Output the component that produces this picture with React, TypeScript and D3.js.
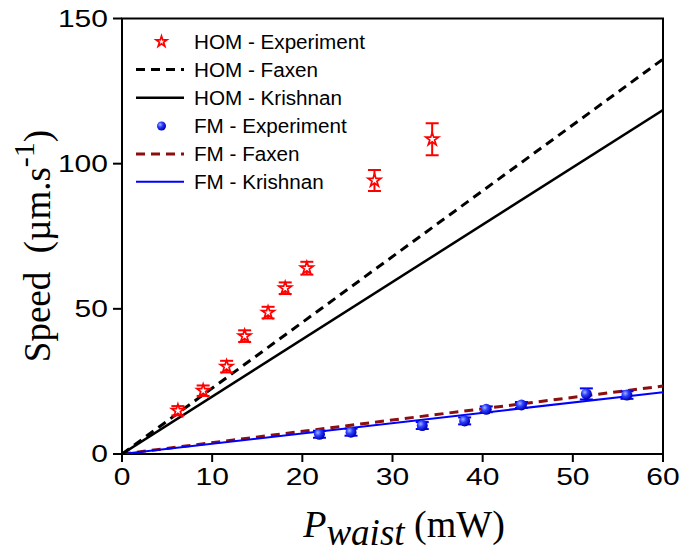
import React, { useEffect, useRef } from "react";
import * as d3 from "d3";

const W = 685;
const H = 554;

const homX = [6.2, 9.0, 11.6, 13.6, 16.2, 18.1, 20.5, 28.0, 34.4];
const homY = [14.9, 21.8, 30.1, 40.6, 48.7, 57.1, 64.0, 94.2, 108.4];
const homErr = [1.6, 1.8, 2.0, 2.0, 2.0, 2.0, 2.2, 3.6, 5.5];

const fmX = [21.9, 25.4, 33.3, 38.0, 40.4, 44.3, 51.5, 56.0];
const fmY = [6.8, 7.5, 9.8, 11.4, 15.4, 16.9, 20.7, 20.3];
const fmErr = [1.2, 1.2, 1.2, 1.2, 1.0, 1.0, 1.9, 1.3];

const lineX = [0, 60];
const homFaxenY = [0, 136];
const homKrishnanY = [0, 118.5];
const fmFaxenY = [0, 23.4];
const fmKrishnanY = [0, 21.3];

const xTicks = [0, 10, 20, 30, 40, 50, 60];
const yTicks = [0, 50, 100, 150];

const legendLabels = [
  "HOM - Experiment",
  "HOM - Faxen",
  "HOM - Krishnan",
  "FM - Experiment",
  "FM - Faxen",
  "FM - Krishnan",
];

export default function App() {
  const ref = useRef<SVGSVGElement>(null);

  useEffect(() => {
    const svg = d3.select(ref.current);
    svg.selectAll("*").remove();

    const left = 122, right = 663, top = 18.5, bottom = 454;
    const x = d3.scaleLinear().domain([0, 60]).range([left, right]);
    const y = d3.scaleLinear().domain([0, 150]).range([bottom, top]);

    const defs = svg.append("defs");
    const grad = defs.append("radialGradient").attr("id", "ball").attr("cx", "35%").attr("cy", "35%").attr("r", "65%");
    grad.append("stop").attr("offset", "0%").attr("stop-color", "#9fb6ff");
    grad.append("stop").attr("offset", "45%").attr("stop-color", "#2a3cff");
    grad.append("stop").attr("offset", "100%").attr("stop-color", "#0000b0");
    defs.append("clipPath").attr("id", "plotclip").append("rect")
      .attr("x", left).attr("y", top).attr("width", right - left).attr("height", bottom - top);

    // frame
    svg.append("rect").attr("x", left).attr("y", top).attr("width", right - left).attr("height", bottom - top)
      .attr("fill", "none").attr("stroke", "#000").attr("stroke-width", 2);

    // axes ticks
    const fontTick = "'Liberation Sans', Arial, sans-serif";
    xTicks.forEach((t) => {
      svg.append("line").attr("x1", x(t)).attr("x2", x(t)).attr("y1", bottom).attr("y2", bottom + 8)
        .attr("stroke", "#000").attr("stroke-width", 2);
      svg.append("text").attr("x", x(t)).attr("y", bottom + 31).attr("text-anchor", "middle")
        .attr("font-family", fontTick).attr("font-size", 24)
        .attr("transform", `translate(${x(t)},0) scale(1.25,1) translate(${-x(t)},0)`)
        .text(String(t));
    });
    yTicks.forEach((t) => {
      svg.append("line").attr("x1", left - 9).attr("x2", left).attr("y1", y(t)).attr("y2", y(t))
        .attr("stroke", "#000").attr("stroke-width", 2);
      svg.append("text").attr("x", left - 14).attr("y", y(t) + 8.5).attr("text-anchor", "end")
        .attr("font-family", fontTick).attr("font-size", 24)
        .attr("transform", `translate(${left - 14},0) scale(1.25,1) translate(${-(left - 14)},0)`)
        .text(String(t));
    });

    // axis titles
    const serif = "'Liberation Serif', 'Times New Roman', serif";
    const yl = svg.append("text").attr("transform", "translate(50,246) rotate(-90)")
      .attr("text-anchor", "middle").attr("font-family", serif)
      .attr("font-size", 37);
    yl.append("tspan").text("Speed\u00a0\u00a0(µm.s");
    yl.append("tspan").attr("dy", -16).attr("font-size", 30).text("-1");
    yl.append("tspan").attr("dy", 16).text(")");

    const xl = svg.append("text").attr("x", 404).attr("y", 537).attr("text-anchor", "middle")
      .attr("font-family", serif).attr("font-size", 38);
    xl.append("tspan").attr("font-style", "italic").text("P");
    xl.append("tspan").attr("font-style", "italic").attr("dy", 8).attr("font-size", 37).text("waist");
    xl.append("tspan").attr("dy", -8).text(" (mW)");

    // lines
    const g = svg.append("g").attr("clip-path", "url(#plotclip)");
    const lineGen = (ys: number[]) =>
      d3.line<number>().x((d) => x(d)).y((_, i) => y(ys[i]))(lineX) as string;

    g.append("path").attr("d", lineGen(fmFaxenY)).attr("fill", "none").attr("stroke", "#8b0f0f")
      .attr("stroke-width", 3).attr("stroke-dasharray", "9,6");
    g.append("path").attr("d", lineGen(fmKrishnanY)).attr("fill", "none").attr("stroke", "#0000ff")
      .attr("stroke-width", 2);
    g.append("path").attr("d", lineGen(homFaxenY)).attr("fill", "none").attr("stroke", "#000")
      .attr("stroke-width", 3).attr("stroke-dasharray", "9,6");
    g.append("path").attr("d", lineGen(homKrishnanY)).attr("fill", "none").attr("stroke", "#000")
      .attr("stroke-width", 2.5);

    // error bars
    const cap = 6.5;
    const drawErr = (xs: number[], ys: number[], es: number[], color: string) => {
      xs.forEach((xv, i) => {
        const cx = x(xv), y1 = y(ys[i] + es[i]), y2 = y(ys[i] - es[i]);
        g.append("line").attr("x1", cx).attr("x2", cx).attr("y1", y1).attr("y2", y2).attr("stroke", color).attr("stroke-width", 2);
        g.append("line").attr("x1", cx - cap).attr("x2", cx + cap).attr("y1", y1).attr("y2", y1).attr("stroke", color).attr("stroke-width", 2);
        g.append("line").attr("x1", cx - cap).attr("x2", cx + cap).attr("y1", y2).attr("y2", y2).attr("stroke", color).attr("stroke-width", 2);
      });
    };
    drawErr(homX, homY, homErr, "#ff0000");
    drawErr(fmX, fmY, fmErr, "#0000ff");

    const star = d3.symbol().type(d3.symbolStar).size(50)() as string;
    const starSmall = d3.symbol().type(d3.symbolStar).size(36)() as string;
    homX.forEach((xv, i) => {
      g.append("path").attr("d", star).attr("transform", `translate(${x(xv)},${y(homY[i])})`)
        .attr("fill", "#fff").attr("stroke", "#ff0000").attr("stroke-width", 1.7)
        .attr("stroke-linejoin", "miter");
    });
    fmX.forEach((xv, i) => {
      g.append("circle").attr("cx", x(xv)).attr("cy", y(fmY[i])).attr("r", 5.5).attr("fill", "url(#ball)");
    });

    // legend
    const rowsY = [41.7, 69.5, 97.7, 126, 154, 181.7];
    const lx1 = 136, lx2 = 184, sx = 161.5, tx = 194;
    const lg = svg.append("g");
    legendLabels.forEach((lab, i) => {
      lg.append("text").attr("x", tx).attr("y", rowsY[i] + 7.5).attr("font-family", fontTick)
        .attr("font-size", 19.5).attr("transform", `translate(${tx},0) scale(1.06,1) translate(${-tx},0)`).text(lab);
    });
    lg.append("path").attr("d", starSmall).attr("transform", `translate(${sx},${rowsY[0]})`)
      .attr("fill", "#fff").attr("stroke", "#ff0000").attr("stroke-width", 1.7);
    lg.append("line").attr("x1", lx1).attr("x2", lx2).attr("y1", rowsY[1]).attr("y2", rowsY[1])
      .attr("stroke", "#000").attr("stroke-width", 3).attr("stroke-dasharray", "9,6");
    lg.append("line").attr("x1", lx1).attr("x2", lx2).attr("y1", rowsY[2]).attr("y2", rowsY[2])
      .attr("stroke", "#000").attr("stroke-width", 2.5);
    lg.append("circle").attr("cx", sx).attr("cy", rowsY[3]).attr("r", 4.5).attr("fill", "url(#ball)");
    lg.append("line").attr("x1", lx1).attr("x2", lx2).attr("y1", rowsY[4]).attr("y2", rowsY[4])
      .attr("stroke", "#8b0f0f").attr("stroke-width", 3).attr("stroke-dasharray", "9,6");
    lg.append("line").attr("x1", lx1).attr("x2", lx2).attr("y1", rowsY[5]).attr("y2", rowsY[5])
      .attr("stroke", "#0000ff").attr("stroke-width", 2);
  }, []);

  return (
    <svg
      ref={ref}
      width={W}
      height={H}
      style={{ position: "absolute", left: 0, top: 0, background: "#fff", display: "block" }}
    />
  );
}
